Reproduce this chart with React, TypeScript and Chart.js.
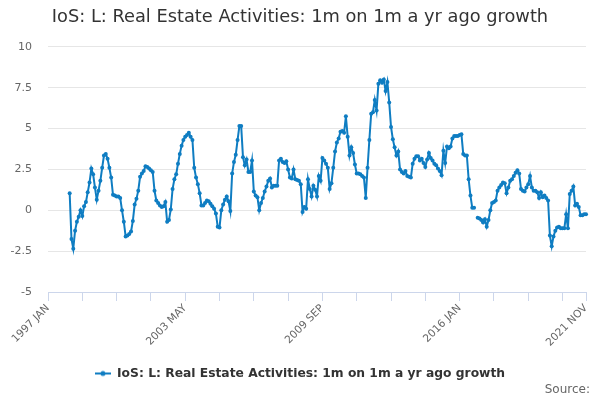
import { useEffect, useRef } from "react"
import { Chart, registerables, type ChartConfiguration, type Plugin } from "chart.js"

Chart.register(...registerables)

const chartTitle = "IoS: L: Real Estate Activities: 1m on 1m a yr ago growth"
const seriesName = "IoS: L: Real Estate Activities: 1m on 1m a yr ago growth"
const sourceText = "Source:"

const monthNames = ["JAN", "FEB", "MAR", "APR", "MAY", "JUN", "JUL", "AUG", "SEP", "OCT", "NOV", "DEC"]
const firstYear = 1997
const lastYear = 2021
const lastMonthIndex = 10 // NOV

// x categories: 1997 JAN .. 2021 NOV
const categories: string[] = []
for (let y = firstYear; y <= lastYear; y++) {
  for (let m = 0; m < 12; m++) {
    if (y === lastYear && m > lastMonthIndex) break
    categories.push(`${y} ${monthNames[m]}`)
  }
}

const tickEvery = 19
const labelEvery = 76
const yTickValues = [-5, -2.5, 0, 2.5, 5, 7.5, 10]

// growth %, one array per year
const v1997 = [null, null, null, null, null, null, null, null, null, null, null, null]
const v1998 = [1.05, -1.75, -2.35, -1.25, -0.7, -0.4, 0.0, -0.35, 0.25, 0.5, 1.1, 1.7]
const v1999 = [2.55, 2.2, 1.4, 0.65, 1.2, 1.8, 2.6, 3.35, 3.45, 3.15, 2.6, 2.0]
const v2000 = [0.95, 0.9, 0.85, 0.85, 0.75, 0.0, -0.7, -1.6, -1.55, -1.45, -1.3, -0.65]
const v2001 = [0.35, 0.7, 1.2, 2.05, 2.25, 2.4, 2.7, 2.65, 2.55, 2.45, 2.35, 1.2]
const v2002 = [0.6, 0.45, 0.3, 0.2, 0.25, 0.5, -0.7, -0.6, 0.05, 1.3, 1.9, 2.2]
const v2003 = [2.85, 3.45, 3.95, 4.3, 4.5, 4.6, 4.75, 4.5, 4.3, 2.6, 2.0, 1.6]
const v2004 = [1.05, 0.3, 0.3, 0.45, 0.6, 0.55, 0.4, 0.25, 0.1, -0.2, -1.0, -1.05]
const v2005 = [0.0, 0.35, 0.65, 0.85, 0.55, -0.05, 2.25, 2.95, 3.4, 4.3, 5.15, 5.15]
const v2006 = [3.25, 2.75, 3.1, 2.35, 2.35, 3.05, 1.15, 0.9, 0.8, 0.0, 0.45, 0.75]
const v2007 = [1.15, 1.45, 1.8, 1.95, 1.4, 1.5, 1.5, 1.5, 3.05, 3.15, 2.95, 2.9]
const v2008 = [3.0, 2.5, 2.0, 1.95, 2.5, 1.9, 1.85, 1.8, 1.6, -0.1, 0.2, 0.1]
const v2009 = [1.9, 1.3, 0.85, 1.5, 1.25, 0.85, 2.1, 1.8, 3.2, 3.05, 2.85, 2.6]
const v2010 = [1.3, 1.65, 2.6, 3.6, 4.15, 4.4, 4.8, 4.85, 4.75, 5.75, 4.5, 3.35]
const v2011 = [3.85, 3.5, 2.8, 2.25, 2.25, 2.2, 2.1, 2.0, 0.75, 2.6, 4.3, 5.9]
const v2012 = [6.0, 6.75, 6.1, 7.75, 7.95, 7.8, 8.0, 7.3, 7.85, 6.6, 5.1, 4.35]
const v2013 = [3.85, 3.35, 3.6, 2.5, 2.35, 2.25, 2.4, 2.1, 2.05, 2.0, 2.85, 3.15]
const v2014 = [3.3, 3.3, 3.05, 3.15, 2.9, 2.65, 3.1, 3.5, 3.2, 3.05, 2.85, 2.75]
const v2015 = [2.55, 2.4, 2.15, 3.65, 2.9, 3.9, 3.8, 3.9, 4.4, 4.55, 4.55, 4.55]
const v2016 = [4.6, 4.65, 3.45, 3.35, 3.35, 1.9, 0.9, 0.15, 0.15, null, -0.45, -0.5]
const v2017 = [-0.6, -0.75, -0.55, -1.0, -0.6, 0.0, 0.45, 0.5, 0.6, 1.2, 1.4, 1.55]
const v2018 = [1.7, 1.65, 1.05, 1.4, 1.8, 1.9, 2.1, 2.3, 2.45, 2.25, 1.3, 1.2]
const v2019 = [1.15, 1.4, 1.6, 2.1, 1.4, 1.2, 1.2, 1.1, 0.75, 1.1, 0.8, 0.9]
const v2020 = [0.75, 0.6, -1.55, -2.2, -1.6, -1.25, -1.05, -1.0, -1.1, -1.1, -1.1, -0.25]
const v2021 = [-1.1, 1.0, 1.2, 1.45, 0.3, 0.4, 0.2, -0.3, -0.3, -0.25, -0.25]

const values: (number | null)[] = [
  ...v1997, ...v1998, ...v1999, ...v2000, ...v2001, ...v2002, ...v2003, ...v2004,
  ...v2005, ...v2006, ...v2007, ...v2008, ...v2009, ...v2010, ...v2011, ...v2012,
  ...v2013, ...v2014, ...v2015, ...v2016, ...v2017, ...v2018, ...v2019, ...v2020, ...v2021,
]

const lineColor = "#0f7dc2"
const font = "'DejaVu Sans', sans-serif"

// legend symbol: short line with a dot
function makeLegendIcon() {
  const c = document.createElement("canvas")
  c.width = 16
  c.height = 10
  const g = c.getContext("2d")
  if (g) {
    g.strokeStyle = lineColor
    g.lineWidth = 2
    g.beginPath()
    g.moveTo(0, 5)
    g.lineTo(16, 5)
    g.stroke()
    g.fillStyle = lineColor
    g.beginPath()
    g.arc(8, 5, 2.5, 0, Math.PI * 2)
    g.fill()
  }
  return c
}

// "Source:" credit in the bottom right corner
const sourcePlugin: Plugin<"line"> = {
  id: "sourceCredit",
  afterDraw(chart) {
    const ctx = chart.ctx
    ctx.save()
    ctx.font = `12px ${font}`
    ctx.fillStyle = "#666666"
    ctx.textAlign = "right"
    ctx.textBaseline = "middle"
    ctx.fillText(sourceText, 590, 390)
    ctx.restore()
  },
}

export default function App() {
  const canvasRef = useRef<HTMLCanvasElement>(null)
  const chartRef = useRef<Chart | null>(null)

  useEffect(() => {
    document.body.style.margin = "0"
    if (!canvasRef.current) return
    if (chartRef.current) chartRef.current.destroy()

    const config: ChartConfiguration<"line", (number | null)[], string> = {
      type: "line",
      data: {
        labels: categories,
        datasets: [
          {
            label: seriesName,
            data: values,
            borderColor: lineColor,
            backgroundColor: lineColor,
            borderWidth: 2,
            pointRadius: 2,
            pointBorderWidth: 0,
            pointBackgroundColor: lineColor,
            spanGaps: false,
            tension: 0,
          },
        ],
      },
      options: {
        animation: false,
        responsive: false,
        maintainAspectRatio: false,
        layout: { padding: { top: 0, right: 0, bottom: 10.4, left: 0 } },
        scales: {
          x: {
            type: "category",
            afterBuildTicks: (scale) => {
              const last = categories.length - 1
              scale.ticks = scale.ticks.filter((t) => t.value % tickEvery === 0 || t.value === last)
            },
            afterFit: (scale) => {
              scale.height = 69.3
            },
            ticks: {
              autoSkip: false,
              minRotation: 45,
              maxRotation: 45,
              padding: 1,
              color: "#666666",
              font: { family: font, size: 10.6 },
              callback: function (value) {
                const i = Number(value)
                if (i % labelEvery === 0 || i === categories.length - 1) return categories[i]
                return ""
              },
            },
            grid: {
              drawOnChartArea: false,
              drawTicks: true,
              tickLength: 9,
              tickColor: "#ccd6eb",
              color: "#ccd6eb",
            },
            border: { display: true, color: "#ccd6eb", width: 1 },
          },
          y: {
            min: -5,
            max: 10,
            afterBuildTicks: (scale) => {
              scale.ticks = yTickValues.map((v) => ({ value: v }))
            },
            afterFit: (scale) => {
              scale.width = 48
            },
            ticks: {
              padding: 16,
              color: "#666666",
              font: { family: font, size: 11 },
            },
            grid: { color: "#e6e6e6", drawTicks: false },
            border: { display: false },
          },
          // empty right-hand margin so the title stays centred on the page
          yRight: {
            type: "linear",
            position: "right",
            display: true,
            afterFit: (scale) => {
              scale.width = 14
            },
            ticks: { display: false },
            grid: { display: false, drawTicks: false },
            border: { display: false },
          },
        },
        plugins: {
          title: {
            display: true,
            text: chartTitle,
            color: "#333333",
            font: { family: font, size: 17.8, weight: "normal" },
            padding: { top: 7, bottom: 18.5 },
          },
          legend: {
            display: true,
            position: "bottom",
            labels: {
              usePointStyle: true,
              pointStyle: makeLegendIcon(),
              pointStyleWidth: 16,
              padding: 6,
              color: "#333333",
              font: { family: font, size: 12.3, weight: "bold" },
            },
          },
          tooltip: { enabled: false },
        },
      },
      plugins: [sourcePlugin],
    }

    chartRef.current = new Chart(canvasRef.current, config)

    return () => {
      if (chartRef.current) {
        chartRef.current.destroy()
        chartRef.current = null
      }
    }
  }, [])

  return (
    <div style={{ width: 600, height: 400, background: "#ffffff" }}>
      <canvas ref={canvasRef} width={600} height={400} style={{ width: 600, height: 400 }} />
    </div>
  )
}
